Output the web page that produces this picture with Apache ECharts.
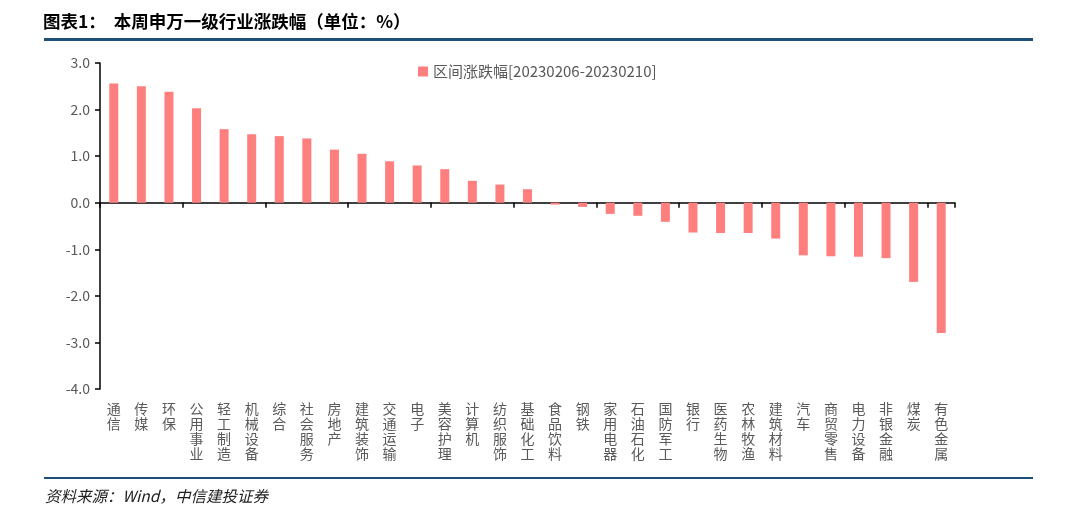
<!DOCTYPE html>
<html><head><meta charset="utf-8">
<script src="https://cdn.jsdelivr.net/npm/echarts@6/dist/echarts.min.js"></script>
<style>html,body{margin:0;padding:0;background:#fff}#c{width:1065px;height:519px}</style>
</head><body><div id="c"></div>
<script>
const categories = ['通信','传媒','环保','公用事业','轻工制造','机械设备','综合','社会服务','房地产','建筑装饰','交通运输','电子','美容护理','计算机','纺织服饰','基础化工','食品饮料','钢铁','家用电器','石油石化','国防军工','银行','医药生物','农林牧渔','建筑材料','汽车','商贸零售','电力设备','非银金融','煤炭','有色金属'];
const values = [2.56,2.50,2.38,2.03,1.58,1.47,1.43,1.38,1.14,1.05,0.89,0.80,0.72,0.47,0.39,0.29,-0.04,-0.09,-0.24,-0.28,-0.41,-0.64,-0.65,-0.65,-0.77,-1.13,-1.15,-1.16,-1.19,-1.70,-2.80];
const seriesName = '区间涨跌幅[20230206-20230210]';
const yMin = -4, yMax = 3, yStep = 1;
const titleText = '图表1：  本周申万一级行业涨跌幅（单位：%）';
const sourceText = '资料来源：Wind，中信建投证券';

const chart = echarts.init(document.getElementById('c'));
const font = '"Noto Sans CJK SC", sans-serif';
chart.setOption({
  animation: false,
  textStyle: {fontFamily: font},
  title: [
    {text: titleText, left: 38, top: 8, textStyle: {fontSize: 17.5, fontWeight: 'bold', color: '#000', fontFamily: font}},
    {text: sourceText, left: 40, top: 483, textStyle: {fontSize: 15.5, fontStyle: 'italic', fontWeight: 'normal', color: '#222', fontFamily: font}}
  ],
  graphic: [
    {type: 'rect', shape: {x: 44, y: 38, width: 989, height: 3}, style: {fill: '#1F4E79'}},
    {type: 'rect', shape: {x: 44, y: 477, width: 989, height: 2}, style: {fill: '#1F4E79'}}
  ],
  legend: {
    left: 413, top: 59, itemWidth: 10, itemHeight: 10, itemGap: 6,
    textStyle: {fontSize: 15, color: '#595959'},
    data: [{name: seriesName, icon: 'rect'}]
  },
  grid: {left: 100, right: 110, top: 63, bottom: 130, containLabel: false},
  xAxis: [
    {type: 'category', data: categories, axisLine: {onZero: true, lineStyle: {color: '#000', width: 1.5}},
     axisTick: {show: true, inside: false, length: 5, lineStyle: {color: '#000', width: 1.5}},
     axisLabel: {show: false}},
    {type: 'category', data: categories, position: 'bottom', axisLine: {show: false, onZero: false},
     axisTick: {show: false},
     axisLabel: {show: true, interval: 0, margin: 12, fontSize: 14, lineHeight: 15, color: '#595959', verticalAlign: 'top',
       formatter: v => v.split('').join('\n')}}
  ],
  yAxis: {
    type: 'value', min: yMin, max: yMax, interval: yStep,
    axisLine: {show: true, lineStyle: {color: '#000', width: 1.5}},
    axisTick: {show: true, length: 5, lineStyle: {color: '#000', width: 1.5}},
    splitLine: {show: false},
    axisLabel: {fontSize: 14, color: '#595959', margin: 10, formatter: v => v.toFixed(1)}
  },
  series: [{
    name: seriesName, type: 'bar', xAxisIndex: 0, data: values, barWidth: 9,
    itemStyle: {color: '#FF7F7F'}
  }]
});
</script></body></html>
